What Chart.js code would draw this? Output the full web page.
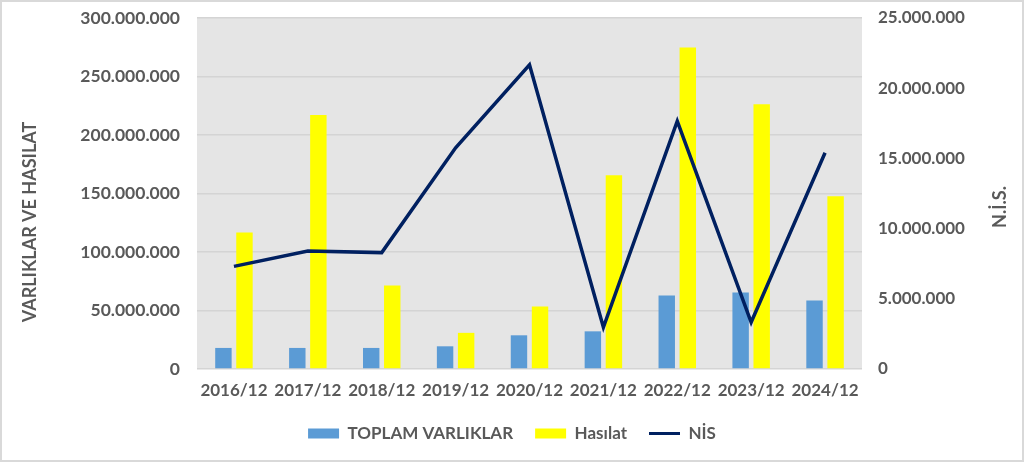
<!DOCTYPE html>
<html>
<head>
<meta charset="utf-8">
<script src="https://cdn.jsdelivr.net/npm/chart.js@4"></script>
<style>
html,body{margin:0;padding:0;background:#fff;}
#wrap{width:1024px;height:462px;position:relative;}
</style>
</head>
<body>
<div id="wrap"><canvas id="c" width="1024" height="462"></canvas></div>
<script>
const categories = ['2016/12','2017/12','2018/12','2019/12','2020/12','2021/12','2022/12','2023/12','2024/12'];
const toplamVarliklar = [18000000,18000000,18000000,19400000,28800000,32200000,62800000,65400000,58500000];
const hasilat = [116600000,217000000,71400000,30900000,53400000,165700000,274800000,226300000,147700000];
const nis = [7310000,8400000,8290000,15760000,21660000,2970000,17660000,3330000,15400000];
const leftTicks = [0,50000000,100000000,150000000,200000000,250000000,300000000];
const rightTicks = [0,5000000,10000000,15000000,20000000,25000000];
const leftTitle = 'VARLIKLAR VE HASILAT';
const rightTitle = 'N.İ.S.';
const seriesNames = ['TOPLAM VARLIKLAR','Hasılat','NİS'];

const FONT = 'Lato';
const TXT = '#595959';
function fmt(v){ return String(Math.round(v)).replace(/\B(?=(\d{3})+(?!\d))/g,'.'); }

const decor = {
  id:'decor',
  beforeDraw(chart){
    const {ctx, chartArea:a} = chart;
    ctx.save();
    ctx.fillStyle = '#e5e5e5';
    ctx.fillRect(a.left, a.top, a.right-a.left, a.bottom-a.top);
    ctx.restore();
  },
  afterDraw(chart){
    const ctx = chart.ctx;
    ctx.save();
    ctx.strokeStyle = '#d9d9d9';
    ctx.lineWidth = 2;
    ctx.strokeRect(1,1,1022,460);
    ctx.fillStyle = TXT;
    ctx.font = 'bold 18px ' + FONT;
    ctx.textAlign = 'center';
    ctx.textBaseline = 'middle';
    ctx.translate(30, 222);
    ctx.rotate(-Math.PI/2);
    ctx.fillText(leftTitle, 0, 0);
    ctx.restore();
    ctx.save();
    ctx.fillStyle = TXT;
    ctx.font = 'bold 18px ' + FONT;
    ctx.textAlign = 'center';
    ctx.textBaseline = 'middle';
    ctx.translate(1000, 207);
    ctx.rotate(-Math.PI/2);
    ctx.fillText(rightTitle, 0, 0);
    ctx.restore();
  }
};

new Chart(document.getElementById('c'), {
  type:'bar',
  data:{
    labels: categories,
    datasets:[
      {type:'line', label:seriesNames[2], data:nis, yAxisID:'y1', borderColor:'#002060', backgroundColor:'#002060', borderWidth:3.5, pointRadius:0, tension:0, order:0},
      {type:'bar', label:seriesNames[0], data:toplamVarliklar, yAxisID:'y', backgroundColor:'#5b9bd5', order:1, barPercentage:0.78, categoryPercentage:0.57},
      {type:'bar', label:seriesNames[1], data:hasilat, yAxisID:'y', backgroundColor:'#ffff00', order:1, barPercentage:0.78, categoryPercentage:0.57}
    ]
  },
  options:{
    responsive:false,
    animation:false,
    devicePixelRatio:1,
    layout:{padding:{top:18,left:0,right:0,bottom:10}},
    plugins:{
      tooltip:{enabled:false},
      legend:{
        position:'bottom',
        labels:{
          usePointStyle:true,
          pointStyleWidth:31,
          boxHeight:10,
          padding:22,
          color:TXT,
          font:{family:FONT, size:17, weight:'bold'},
          generateLabels(chart){
            const ds = chart.data.datasets;
            return [1,2,0].map(i=>({
              text: ds[i].label,
              fillStyle: ds[i].type==='line' ? 'rgba(0,0,0,0)' : ds[i].backgroundColor,
              strokeStyle: ds[i].type==='line' ? ds[i].borderColor : ds[i].backgroundColor,
              lineWidth: ds[i].type==='line' ? 3 : 0,
              pointStyle: ds[i].type==='line' ? 'line' : 'rect',
              fontColor: TXT,
              hidden:false,
              datasetIndex:i
            }));
          }
        }
      }
    },
    scales:{
      x:{
        grid:{display:false},
        border:{display:false},
        ticks:{color:TXT, font:{family:FONT, size:17, weight:'bold'}, padding:3, maxRotation:0},
        afterFit(s){ s.height = 34; s.paddingLeft = 0; s.paddingRight = 0; }
      },
      y:{
        position:'left',
        min:0, max:300000000,
        afterBuildTicks(s){ s.ticks = leftTicks.map(v=>({value:v})); },
        grid:{color:'#d4d4d4', lineWidth:1.5, drawTicks:false},
        border:{display:false},
        ticks:{color:TXT, font:{family:FONT, size:17.5, weight:'bold'}, padding:17, callback:v=>fmt(v)},
        afterFit(s){ s.width = 197; s.paddingTop = 0; s.paddingBottom = 0; }
      },
      y1:{
        position:'right',
        min:0, max:25000000,
        afterBuildTicks(s){ s.ticks = rightTicks.map(v=>({value:v})); },
        grid:{display:false, drawTicks:false},
        border:{display:false},
        ticks:{color:TXT, font:{family:FONT, size:17, weight:'bold'}, padding:16, callback:v=>fmt(v)},
        afterFit(s){ s.width = 162; s.paddingTop = 0; s.paddingBottom = 0; }
      }
    }
  },
  plugins:[decor]
});
</script>
</body>
</html>
